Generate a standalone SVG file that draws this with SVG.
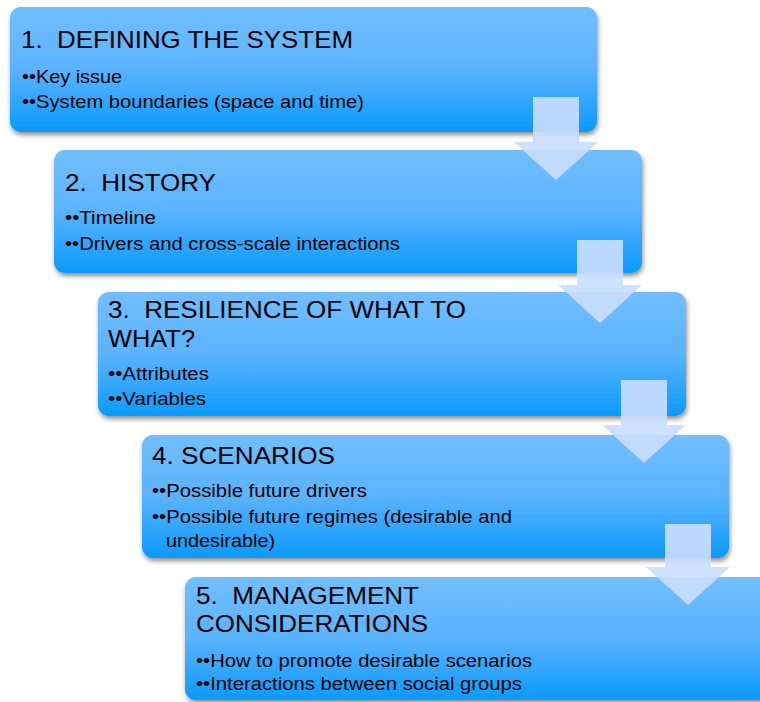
<svg xmlns="http://www.w3.org/2000/svg" width="760" height="702" viewBox="0 0 760 702">
<style>
.box{fill:url(#g);filter:url(#sh)}
.t{font-family:"Liberation Sans",Arial,sans-serif;font-size:24px;fill:#000;white-space:pre}
.b{font-family:"Liberation Sans",Arial,sans-serif;font-size:18px;fill:#000;white-space:pre}
.arr{fill:#c9ddfd;fill-opacity:0.92}
</style>
<defs>
<linearGradient id="g" x1="0" y1="0" x2="0" y2="1">
<stop offset="0" stop-color="#72befe"/>
<stop offset="0.5" stop-color="#5ab3fe"/>
<stop offset="1" stop-color="#0a9afd"/>
</linearGradient>
<filter id="sh" x="-5%" y="-10%" width="115%" height="130%">
<feGaussianBlur in="SourceAlpha" stdDeviation="2.5"/>
<feOffset dx="1" dy="3" result="o"/>
<feComponentTransfer><feFuncA type="linear" slope="0.45"/></feComponentTransfer>
<feMerge><feMergeNode/><feMergeNode in="SourceGraphic"/></feMerge>
</filter>
</defs>
<g id="node1">
<rect class="box" x="10" y="7" width="587" height="125" rx="11"/>
<text class="t" x="21" y="48" textLength="332" lengthAdjust="spacingAndGlyphs">1.  DEFINING THE SYSTEM</text>
<text class="b" x="22" y="83" textLength="100" lengthAdjust="spacingAndGlyphs">••Key issue</text>
<text class="b" x="22" y="108" textLength="342" lengthAdjust="spacingAndGlyphs">••System boundaries (space and time)</text>
</g>
<g id="node2">
<rect class="box" x="54" y="150" width="588" height="123" rx="11"/>
<text class="t" x="65" y="191" textLength="151" lengthAdjust="spacingAndGlyphs">2.  HISTORY</text>
<text class="b" x="65" y="224" textLength="91" lengthAdjust="spacingAndGlyphs">••Timeline</text>
<text class="b" x="65" y="250" textLength="335" lengthAdjust="spacingAndGlyphs">••Drivers and cross-scale interactions</text>
</g>
<g id="node3">
<rect class="box" x="98" y="292" width="588" height="124" rx="11"/>
<text class="t" x="108" y="318" textLength="358" lengthAdjust="spacingAndGlyphs">3.  RESILIENCE OF WHAT TO</text>
<text class="t" x="108" y="347" textLength="87" lengthAdjust="spacingAndGlyphs">WHAT?</text>
<text class="b" x="108" y="380" textLength="101" lengthAdjust="spacingAndGlyphs">••Attributes</text>
<text class="b" x="108" y="405" textLength="98" lengthAdjust="spacingAndGlyphs">••Variables</text>
</g>
<g id="node4">
<rect class="box" x="142" y="435" width="587" height="123" rx="11"/>
<text class="t" x="152" y="464" textLength="183" lengthAdjust="spacingAndGlyphs">4. SCENARIOS</text>
<text class="b" x="152" y="497" textLength="215" lengthAdjust="spacingAndGlyphs">••Possible future drivers</text>
<text class="b" x="152" y="523" textLength="360" lengthAdjust="spacingAndGlyphs">••Possible future regimes (desirable and</text>
<text class="b" x="166" y="547" textLength="109" lengthAdjust="spacingAndGlyphs">undesirable)</text>
</g>
<g id="node5">
<rect class="box" x="185" y="577" width="600" height="123" rx="11"/>
<text class="t" x="196" y="604" textLength="223" lengthAdjust="spacingAndGlyphs">5.  MANAGEMENT</text>
<text class="t" x="196" y="632" textLength="232" lengthAdjust="spacingAndGlyphs">CONSIDERATIONS</text>
<text class="b" x="196" y="667" textLength="336" lengthAdjust="spacingAndGlyphs">••How to promote desirable scenarios</text>
<text class="b" x="196" y="690" textLength="326" lengthAdjust="spacingAndGlyphs">••Interactions between social groups</text>
</g>
<g id="connectors">
<path class="arr" d="M533,97 H579 V142 H598 L556,180 L514,142 H533 Z"/>
<path class="arr" d="M577,240 H623 V285 H642 L600,323 L558,285 H577 Z"/>
<path class="arr" d="M621,380 H667 V425 H686 L644,463 L602,425 H621 Z"/>
<path class="arr" d="M665,524 H711 V567 H730 L688,605 L646,567 H665 Z"/>
</g>
</svg>
